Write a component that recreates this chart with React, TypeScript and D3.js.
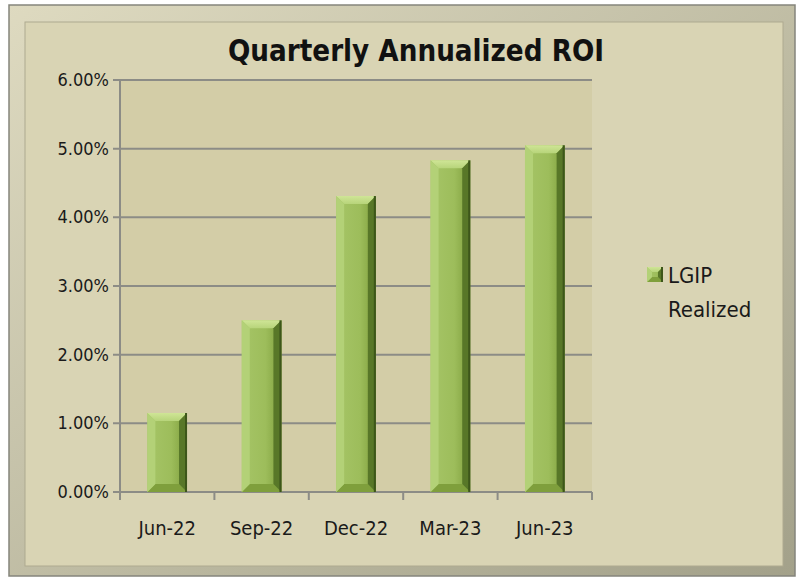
import React from 'react';
import * as d3 from 'd3';

const categories = ['Jun-22', 'Sep-22', 'Dec-22', 'Mar-23', 'Jun-23'];
const realized = [1.15, 2.5, 4.31, 4.83, 5.05];
const yTicks = [0, 1, 2, 3, 4, 5, 6];
const seriesName = ['LGIP', 'Realized'];

const W = 804;
const H = 580;
const FONT = "'DejaVu Sans Condensed', 'Liberation Sans Narrow', sans-serif";

const Bar = ({ x, y, w, h, b0 = 8 }: { x: number; y: number; w: number; h: number; b0?: number }) => {
  const b = Math.min(b0, h / 2, w / 2);
  return (
    <g>
      <rect x={x} y={y} width={w} height={h} fill="url(#barBody)" />
      {/* top bevel */}
      <polygon points={`${x},${y} ${x + w},${y} ${x + w - b},${y + b} ${x + b},${y + b}`} fill="url(#barTop)" />
      {/* bottom bevel */}
      <polygon points={`${x},${y + h} ${x + w},${y + h} ${x + w - b},${y + h - b} ${x + b},${y + h - b}`} fill="#7f9f3c" />
      {/* left bevel */}
      <polygon points={`${x},${y} ${x + b},${y + b} ${x + b},${y + h - b} ${x},${y + h}`} fill="#b3d177" />
      {/* right bevel */}
      <polygon points={`${x + w},${y} ${x + w - b},${y + b} ${x + w - b},${y + h - b} ${x + w},${y + h}`} fill="#587728" />
      <rect x={x + w - 2} y={y} width={2} height={h} fill="#3d561a" />
    </g>
  );
};

export default function App() {
  const left = 120;
  const right = 592;
  const top = 80;
  const bottom = 492;

  const x = d3.scaleBand<string>().domain(categories).range([left, right]).paddingInner(0.58).paddingOuter(0.29);
  const y = d3.scaleLinear().domain([0, 6]).range([bottom, top]);
  const step = (right - left) / categories.length;

  return (
    <svg width={W} height={H} style={{ position: 'absolute', left: 0, top: 0 }} fontFamily={FONT}>
      <defs>
        <linearGradient id="frame" x1="0" y1="0" x2="1" y2="1">
          <stop offset="0" stopColor="#dedac0" />
          <stop offset="1" stopColor="#a3a18a" />
        </linearGradient>
        <linearGradient id="barBody" x1="0" y1="0" x2="1" y2="0">
          <stop offset="0" stopColor="#a6c567" />
          <stop offset="0.6" stopColor="#9dbd5b" />
          <stop offset="1" stopColor="#7e9e3c" />
        </linearGradient>
        <linearGradient id="barTop" x1="0" y1="0" x2="0" y2="1">
          <stop offset="0" stopColor="#cfe596" />
          <stop offset="1" stopColor="#b7d47a" />
        </linearGradient>
      </defs>
      <rect x={0} y={0} width={W} height={H} fill="#ffffff" />
      {/* frame */}
      <rect x={9} y={5} width={786} height={571} fill="url(#frame)" stroke="#85857c" strokeWidth={1.5} />
      <rect x={25} y={22} width={758} height={544} fill="#d9d4b4" stroke="#aeaa90" strokeWidth={1} />
      {/* plot area */}
      <rect x={left} y={top} width={right - left} height={bottom - top} fill="#d3cda7" />

      <text x={416} y={61} textAnchor="middle" fontSize={31} fontWeight="bold" fill="#111" textLength={376} lengthAdjust="spacingAndGlyphs">
        Quarterly Annualized ROI
      </text>

      {/* gridlines and y labels */}
      {yTicks.map((t) => (
        <g key={t}>
          <line x1={left - 7} x2={right} y1={y(t)} y2={y(t)} stroke="#8c8c86" strokeWidth={2} />
          <text x={left - 11} y={y(t) + 6} textAnchor="end" fontSize={18} fill="#1a1a1a">
            {d3.format('.2f')(t)}%
          </text>
        </g>
      ))}
      <line x1={left} x2={left} y1={top} y2={bottom} stroke="#8c8c86" strokeWidth={2} />

      {/* x ticks */}
      {d3.range(categories.length + 1).map((i) => (
        <line key={i} x1={left + i * step} x2={left + i * step} y1={bottom} y2={bottom + 8} stroke="#8c8c86" strokeWidth={2} />
      ))}

      {categories.map((c, i) => (
        <g key={c}>
          <Bar x={x(c)!} y={y(realized[i])} w={x.bandwidth()} h={y(0) - y(realized[i])} />
          <text x={x(c)! + x.bandwidth() / 2} y={535} textAnchor="middle" fontSize={20} fill="#1a1a1a">
            {c}
          </text>
        </g>
      ))}

      {/* legend */}
      <Bar x={647} y={267} w={16} h={15} b0={5} />
      <text x={668} y={283} fontSize={22} fill="#1a1a1a">
        {seriesName[0]}
      </text>
      <text x={668} y={317} fontSize={22} fill="#1a1a1a">
        {seriesName[1]}
      </text>
    </svg>
  );
}
